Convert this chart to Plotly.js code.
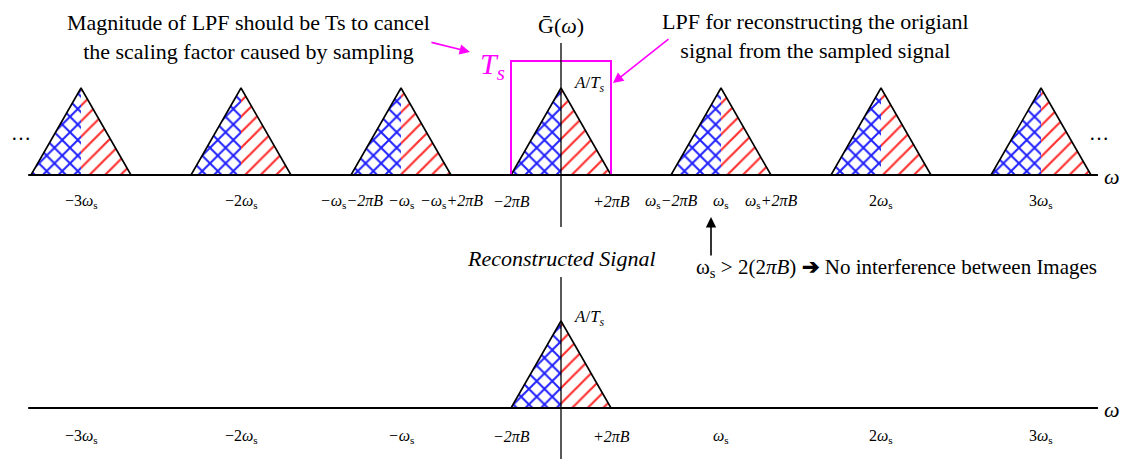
<!DOCTYPE html>
<html>
<head>
<meta charset="utf-8">
<script src="https://cdn.plot.ly/plotly-3.0.1.min.js"></script>
<style>html,body{margin:0;padding:0;background:#fff;}#chart{width:1133px;height:459px;}</style>
</head>
<body>
<div id="chart"></div>
<script>
// ---- data (frequency in units of omega_s, magnitude in units of A/Ts) ----
const imageOrders = [-3, -2, -1, 0, 1, 2, 3];      // spectral images k*omega_s
const omegaS = 1;                                   // sampling frequency
const bandEdge = 0.3125;                            // 2*pi*B relative to omega_s
const peakMag = 1;                                  // A/Ts
const lpfGain = 1.31;                               // Ts (LPF magnitude)
const reconstructedOrders = [0];

const topTickVals = [-3, -2, -1 - 0.3125, -1, -1 + 0.3125, -0.3125, 0.3125, 1 - 0.3125, 1, 1 + 0.3125, 2, 3];
const topTickText = [
  '−3<i>ω</i><sub>s</sub>', '−2<i>ω</i><sub>s</sub>',
  '<i>−ω</i><sub>s</sub><i>−2πB</i>', '<i>−ω</i><sub>s</sub>', '<i>−ω</i><sub>s</sub><i>+2πB</i>',
  '<i>−2πB</i>', '<i>+2πB</i>',
  '<i>ω</i><sub>s</sub><i>−2πB</i>', '<i>ω</i><sub>s</sub>', '<i>ω</i><sub>s</sub><i>+2πB</i>',
  '2<i>ω</i><sub>s</sub>', '3<i>ω</i><sub>s</sub>'
];
const bottomTickVals = [-3, -2, -1, -0.3125, 0.3125, 1, 2, 3];
const bottomTickText = [
  '−3<i>ω</i><sub>s</sub>', '−2<i>ω</i><sub>s</sub>', '<i>−ω</i><sub>s</sub>',
  '<i>−2πB</i>', '<i>+2πB</i>',
  '<i>ω</i><sub>s</sub>', '2<i>ω</i><sub>s</sub>', '3<i>ω</i><sub>s</sub>'
];

// ---- styles ----
const FONT = '"Liberation Serif", serif';
const blueHatch = {shape: 'x', fgcolor: '#2020ff', bgcolor: '#ffffff', size: 11, solidity: 0.33};
const redHatch = {shape: '/', fgcolor: '#ff3030', bgcolor: '#ffffff', size: 11, solidity: 0.2};

const traces = [];
function addTriangle(center, yaxis) {
  const B = bandEdge;
  traces.push({x: [center - B, center, center, center - B], y: [0, 0, peakMag, 0], yaxis: yaxis,
    type: 'scatter', mode: 'lines', fill: 'toself', fillpattern: blueHatch,
    line: {width: 0, color: 'rgba(0,0,0,0)'}, hoverinfo: 'skip', showlegend: false});
  traces.push({x: [center, center + B, center, center], y: [0, 0, peakMag, 0], yaxis: yaxis,
    type: 'scatter', mode: 'lines', fill: 'toself', fillpattern: redHatch,
    line: {width: 0, color: 'rgba(0,0,0,0)'}, hoverinfo: 'skip', showlegend: false});
  traces.push({x: [center - B, center, center + B], y: [0, peakMag, 0], yaxis: yaxis,
    type: 'scatter', mode: 'lines', line: {color: '#000', width: 1.6}, hoverinfo: 'skip', showlegend: false});
}
imageOrders.forEach(k => addTriangle(k * omegaS, 'y'));
reconstructedOrders.forEach(k => addTriangle(k * omegaS, 'y2'));

// LPF box
traces.push({x: [-bandEdge, -bandEdge, bandEdge, bandEdge], y: [0, lpfGain, lpfGain, 0], yaxis: 'y',
  type: 'scatter', mode: 'lines', line: {color: '#ff00ff', width: 2}, hoverinfo: 'skip', showlegend: false});

// axes lines
const axisStart = -3.33, axisEnd = 3.356;
traces.push({x: [axisStart, axisEnd], y: [0, 0], yaxis: 'y', type: 'scatter', mode: 'lines',
  line: {color: '#000', width: 2}, hoverinfo: 'skip', showlegend: false});
traces.push({x: [axisStart, axisEnd], y: [0, 0], yaxis: 'y2', type: 'scatter', mode: 'lines',
  line: {color: '#000', width: 2}, hoverinfo: 'skip', showlegend: false});
traces.push({x: [0, 0], y: [1.517, -0.598], yaxis: 'y', type: 'scatter', mode: 'lines',
  line: {color: '#000', width: 1.3}, hoverinfo: 'skip', showlegend: false});
traces.push({x: [0, 0], y: [1.506, -0.7], yaxis: 'y2', type: 'scatter', mode: 'lines',
  line: {color: '#000', width: 1.3}, hoverinfo: 'skip', showlegend: false});

const ann = [];
function txt(x, y, text, size, yref, color) {
  ann.push({x: x, y: y, xref: 'x', yref: yref || 'y', text: text, showarrow: false,
    font: {family: FONT, size: size, color: color || '#000'}, xanchor: 'center', yanchor: 'middle'});
}
topTickVals.forEach((v, i) => txt(v, -0.3, topTickText[i], 16, 'y'));
bottomTickVals.forEach((v, i) => txt(v, -0.33, bottomTickText[i], 16, 'y2'));

txt(-1.956, 1.586, 'Magnitude of LPF should be Ts to cancel<br>the scaling factor caused by sampling', 22, 'y');
txt(1.59, 1.598, 'LPF for reconstructing the origianl<br>signal from the sampled signal', 22, 'y');
txt(0, 1.724, 'Ḡ(<i>ω</i>)', 22, 'y');
txt(-0.43, 1.25, '<i>T<sub>s</sub></i>', 30, 'y', '#ff00ff');
txt(0.18, 1.05, '<i>A</i>/<i>T<sub>s</sub></i>', 17, 'y');
txt(0.18, 1.04, '<i>A</i>/<i>T<sub>s</sub></i>', 17, 'y2');
txt(0, 1.724, '<i>Reconstructed Signal</i>', 22, 'y2');
txt(2.094, 1.609, 'ω<sub>s</sub> > 2(2<i>πB</i>) <b>➔</b> No interference between Images', 21, 'y2');
txt(-3.375, 0.483, '…', 20, 'y');
txt(3.3625, 0.483, '…', 20, 'y');
txt(3.444, -0.02, '<i>ω</i>', 22, 'y');
txt(3.444, -0.02, '<i>ω</i>', 22, 'y2');

function arrow(hx, hy, tx, ty, yref, color) {
  ann.push({x: hx, y: hy, ax: tx, ay: ty, xref: 'x', yref: yref, axref: 'x', ayref: yref,
    text: '', showarrow: true, arrowhead: 2, arrowsize: 1.3, arrowwidth: 1.6, arrowcolor: color, standoff: 0, startstandoff: 0});
}
arrow(-0.569, 1.414, -0.819, 1.529, 'y', '#ff00ff');
arrow(0.325, 1.057, 0.681, 1.575, 'y', '#ff00ff');
arrow(0.9375, 2.195, 0.9375, 1.736, 'y2', '#000');

const layout = {
  width: 1133, height: 459,
  margin: {l: 0, r: 0, t: 0, b: 0},
  paper_bgcolor: '#fff', plot_bgcolor: '#fff',
  font: {family: FONT, color: '#000'},
  showlegend: false,
  xaxis: {range: [-3.50625, 3.575], visible: false, fixedrange: true},
  yaxis: {range: [-3.2644, 2.0115], visible: false, fixedrange: true},
  yaxis2: {range: [-0.5862, 4.6897], visible: false, overlaying: 'y', fixedrange: true},
  annotations: ann
};
Plotly.newPlot('chart', traces, layout, {staticPlot: true, displayModeBar: false});
</script>
</body>
</html>
